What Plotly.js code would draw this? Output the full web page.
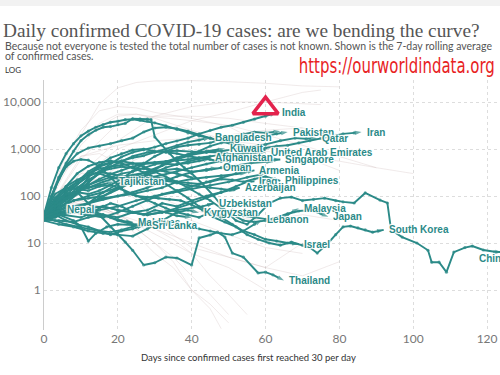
<!DOCTYPE html>
<html>
<head>
<meta charset="utf-8">
<script src="https://cdn.plot.ly/plotly-3.0.1.min.js"></script>
<style>html,body{margin:0;padding:0;background:#fff;}#chart{width:500px;height:375px;}</style>
</head>
<body>
<div id="chart"></div>
<script>
// ---------- DATA ----------
const titleText = "Daily confirmed COVID-19 cases: are we bending the curve?";
const subtitleLine1 = "Because not everyone is tested the total number of cases is not known. Shown is the 7-day rolling average";
const subtitleLine2 = "of confirmed cases.";
const xAxisTitle = "Days since confirmed cases first reached 30 per day";
const sourceUrl = "https://ourworldindata.org";
const xTickVals = [0, 20, 40, 60, 80, 100, 120];
const yTickVals = [1, 10, 100, 1000, 10000];
const yTickText = ["1", "10", "100", "1,000", "10,000"];

// highlighted marker (red triangle near India)
const highlightDay = [60];
const highlightCases = [7400];

// ---- highlighted (teal) countries ----
const indiaDays = [0,3,6,9,12,15,18,21,24,27,30,33,36,39,42,45,48,51,54,57,60,63];
const indiaCases = [30,45,70,110,190,330,480,680,850,960,1100,1300,1480,1700,2100,2500,2900,3200,3700,4300,5000,5900];
const pakistanDays = [0,3,6,9,12,15,18,21,24,27,30,33,36,39,42,45,48,51,54,57,60,63,66];
const pakistanCases = [35,90,130,150,170,210,250,300,330,400,470,540,650,780,900,1150,1350,1450,1600,1750,1900,2100,2300];
const qatarDays = [0,4,8,12,16,20,24,28,32,36,40,44,48,52,56,60,64,68,71,74];
const qatarCases = [35,45,55,70,120,180,250,330,450,600,750,850,900,1000,1100,1250,1500,1700,1650,1700];
const iranDays = [0,3,6,9,12,15,18,21,24,27,30,33,36,39,42,45,48,51,54,57,60,63,66,69,72,75,78,81,84,86];
const iranCases = [40,150,450,800,1050,1150,1300,1500,1700,2300,2800,2900,2700,2400,2000,1700,1450,1250,1150,1050,1050,1150,1200,1350,1500,1700,1900,2100,2200,2300];
const bangladeshDays = [0,3,6,9,12,15,18,21,24,27,30,33,36,39,42,45];
const bangladeshCases = [35,60,100,180,300,420,500,560,650,720,850,1000,1200,1400,1550,1750];
const kuwaitDays = [0,4,8,12,16,20,24,28,32,36,40,44,47,49];
const kuwaitCases = [35,60,80,90,100,150,220,300,450,650,800,900,950,1020];
const uaeDays = [0,3,6,9,12,15,18,21,24,27,30,33,36,39,42,45,48,51,54,57,60];
const uaeCases = [40,80,140,200,300,380,420,460,490,500,520,540,560,600,650,700,750,780,800,820,850];
const afghanistanDays = [0,3,6,9,12,15,18,21,24,27,30,33,36,39,42,45];
const afghanistanCases = [30,35,45,55,70,90,120,150,200,260,320,400,470,550,620,660];
const singaporeDays = [0,3,6,9,12,15,18,21,24,27,30,33,36,39,42,45,48,51,54,57,60,64];
const singaporeCases = [40,50,70,120,250,450,650,800,950,1000,900,850,800,700,650,600,550,600,650,600,580,600];
const omanDays = [0,4,8,12,16,20,24,28,32,36,40,44,47];
const omanCases = [30,40,55,70,85,100,120,150,200,260,320,370,400];
const armeniaDays = [0,4,8,12,16,20,24,28,32,36,40,44,48,52,57];
const armeniaCases = [35,40,45,40,35,45,60,80,110,130,160,200,250,300,350];
const iraqDays = [0,4,8,12,16,20,24,28,32,36,40,44,48,52,55,57];
const iraqCases = [35,40,45,50,40,35,45,50,70,60,80,100,120,160,200,205];
const philippinesDays = [0,3,6,9,12,15,18,21,24,27,30,33,36,39,42,45,48,51,54,57,60,64];
const philippinesCases = [35,60,90,150,220,300,250,220,200,220,250,230,200,190,180,200,230,220,200,230,260,210];
const azerbaijanDays = [0,4,8,12,16,20,24,28,32,36,40,44,48,53];
const azerbaijanCases = [35,40,50,55,60,50,45,40,45,55,70,90,120,150];
const tajikistanDays = [0,3,6,9,12,15,19];
const tajikistanCases = [40,60,90,130,150,170,200];
const uzbekistanDays = [0,4,8,12,16,20,24,28,32,36,40,43,46];
const uzbekistanCases = [35,45,50,55,60,50,45,40,45,50,55,60,70];
const kyrgyzstanDays = [0,4,8,12,16,20,24,28,32,36,39,42];
const kyrgyzstanCases = [30,25,22,18,16,15,14,20,30,45,50,44];
const lebanonDays = [0,3,6,9,12,15,18,21,24,27,30,33,36,39,42,45,48,51,54,57,59];
const lebanonCases = [32,30,25,22,20,18,17,19,22,26,30,28,25,22,20,18,16,15,18,25,31];
const malaysiaDays = [0,3,6,9,12,15,18,21,24,27,30,33,36,39,42,45,48,51,54,57,60,63,66,69];
const malaysiaCases = [40,110,150,140,130,160,170,140,110,90,70,55,45,40,35,45,40,50,38,35,32,30,40,55];
const japanDays = [0,3,6,9,12,15,18,21,24,27,30,33,36,39,42,45,48,51,54,57,60,63,66,69,72,75,77];
const japanCases = [40,70,120,200,330,450,520,550,500,420,330,260,200,150,110,80,55,40,30,28,30,35,42,48,50,42,36];
const southKoreaDays = [0,2,4,6,8,10,12,14,16,18,20,22,25,28,31,34,37,40,43,46,49,52,55,58,61,64,67,70,72,74,77,79,81,83,85,87,89,92];
const southKoreaCases = [35,90,230,420,550,600,580,480,360,250,170,120,100,95,90,85,80,65,50,35,28,22,15,12,10,9,10.5,9,8,6.1,10,15,22,23,21,19,17,19];
const chinaDays = [0,2,4,6,8,10,12,14,16,18,20,22,24,26,28,29,30,32,34,36,38,40,43,46,49,52,55,58,61,64,67,70,73,76,79,81,84,87,91,93,94,97,101,104,105,107,109,111,114,116,119,122,124];
const chinaCases = [40,100,250,500,900,1500,2000,2500,2900,3000,3300,3500,4400,4400,4300,4200,1800,1200,800,550,400,300,180,100,50,30,25,40,70,90,95,80,85,90,80,75,71,116,82,71,19,13.4,10,7,3.9,3.9,2.4,6.4,8,8.6,7.1,6.5,6.4];
const israelDays = [0,3,6,9,12,15,18,21,24,27,30,33,36,39,42,45,48,51,54,57,60,63,66,69];
const israelCases = [35,70,160,300,430,520,560,500,400,320,250,180,130,90,60,45,35,25,18,15,12,11,10,9.5];
const thailandDays = [0,3,6,9,12,15,18,20,22,24,27,30,33,36,40,42,45,47,49,51,54,58,60,62,65];
const thailandCases = [38,70,110,120,70,40,22,15,10.5,7,3.4,3.8,5,4.8,3.4,12.8,14.8,17,13.4,6.1,5,2.3,2.4,2.1,1.6];
const nepalDays = [0,1,2,3,4,5];
const nepalCases = [35,38,42,45,48,52];
const maldivesDays = [0,3,6,9,12,15,18,21,24];
const maldivesCases = [35,45,55,50,45,40,35,30,27];
const sriLankaDays = [0,4,8,12,16,20,24,28];
const sriLankaCases = [32,30,28,35,40,30,25,24];
// unlabelled teal lines (their labels are hidden by overlap in the reference)
const saudiDays = [0,3,6,9,12,15,18,21,24,27,30,33,36,39,42,45,48,51,54,57,60,64];
const saudiCases = [40,80,110,120,110,130,170,230,340,480,700,900,1100,1200,1250,1350,1600,1800,2100,2300,2200,2400];
const turkeyDays = [0,2,4,6,8,10,12,14,16,18,20,22,24,26,28,30,33,36,39,42,45,48,51,54,57,60];
const turkeyCases = [40,150,400,800,1300,1900,2400,2900,3300,3700,3900,4200,4300,4100,3900,3600,3100,2600,2200,1900,1700,1500,1300,1150,1000,950];
const indonesiaDays = [0,4,8,12,16,20,24,28,32,36,40,44,48,52,56,62];
const indonesiaCases = [40,80,120,150,200,250,280,320,350,380,330,350,400,450,500,550];
const kazakhstanDays = [0,4,8,12,16,20,24,28,32,36,40,44,48,52,55];
const kazakhstanCases = [30,40,60,70,90,100,110,130,150,200,230,250,270,300,310];
const bahrainDays = [0,5,10,15,20,25,30,35,40,45,50,55,60];
const bahrainCases = [30,40,35,50,60,80,100,120,140,170,200,250,300];
const belarusDays = [0,4,8,12,16,20,24,28,32,36,40,44,48,50];
const belarusCases = [40,70,110,200,350,500,700,850,900,920,880,860,850,830];
const georgiaDays = [0,3,6,9,12,15,18,21,24,27,30,33,36,40];
const georgiaCases = [32,45,60,50,40,55,70,60,45,40,50,45,38,35];
const hongKongDays = [0,4,8,10,12,14,17,20,24,28,33];
const hongKongCases = [35,40,30,22,11,16,22,25,24,26,25];
const jordanDays = [0,3,6,9,12,15,18,21,24,27];
const jordanCases = [32,40,30,25,22,18,15,18,20,24];
const kuwaitPeerDays = [0,3,6,9,12,15,18,21,24,27,30,33,36,39,42,45,48,52];
const kuwaitPeerCases = [40,90,160,220,280,320,300,260,240,230,220,210,190,170,160,150,140,130];
const omanPeerDays = [0,3,6,9,12,15,18,21,24,27,30,33,36,39,42,45];
const omanPeerCases = [35,55,80,120,170,230,290,350,420,480,500,480,470,500,560,620];
const egyptDays = [0,4,8,12,16,20,24,28,32,36,40,44,48,52,55];
const egyptCases = [35,55,80,100,120,150,190,240,280,330,400,480,560,650,700];
const armeniaPeerDays = [0,3,6,9,12,15,18,21,24,27,30,33,36,39,42];
const armeniaPeerCases = [38,70,120,180,260,330,380,420,400,380,360,330,300,260,230];

// ---- background (grey) countries ----
const usDays = [0,5,10,15,20,25,30,40,50,60,70,80];
const usCases = [40,300,2000,9000,20000,26000,28000,28500,27000,25000,22000,21000];
const brazilDays = [0,10,20,30,40,50,60,70,75];
const brazilCases = [40,250,1000,2000,4000,6000,10000,16000,18000];
const russiaDays = [0,10,20,30,40,50,60,70,75];
const russiaCases = [40,300,1500,5000,8000,10000,10000,9000,8800];
const ukDays = [0,10,20,30,40,50,60,70,80];
const ukCases = [40,600,3500,5000,5000,4500,3500,2800,2000];
const italyDays = [0,5,10,15,20,25,30,40,50,60,70,80,90,100];
const italyCases = [40,250,1200,3000,5000,5500,4800,4000,3200,2000,1200,700,400,300];
const spainDays = [0,5,10,15,20,25,30,40,50,60,70,80];
const spainCases = [40,500,2500,6500,8000,7500,6000,4500,3000,1200,700,350];
const germanyDays = [0,5,10,15,20,25,30,40,50,60,70,80,90];
const germanyCases = [40,400,1500,3500,5500,5500,4500,2500,1500,900,700,550,400];
const canadaDays = [0,10,20,30,40,50,60,70];
const canadaCases = [40,700,1200,1500,1700,1500,1200,900];
const mexicoDays = [0,10,20,30,40,50,60,70];
const mexicoCases = [35,150,400,900,1500,2000,2500,2800];
const australiaDays = [0,5,10,15,20,25,30,35,40,50,60,70];
const australiaCases = [40,150,300,320,200,80,30,15,8,5,3,10];
const newZealandDays = [0,5,10,15,20,25,30,35,40,45,50];
const newZealandCases = [30,60,70,55,35,15,6,3,1,0.5,0.2];
const icelandDays = [0,5,10,15,20,25,30,35,40,45,48];
const icelandCases = [35,60,80,60,40,20,10,4,1,0.4,0.15];
const croatiaDays = [0,5,10,15,20,25,30,35,40,45,50,55];
const croatiaCases = [35,60,70,50,40,25,20,12,6,2,0.8,0.3];
const greeceDays = [0,5,10,15,20,25,30,40,50,60,70,80];
const greeceCases = [35,60,80,60,40,30,20,10,5,3,2,4];
const norwayDays = [0,5,10,15,20,25,30,40,50,60,70];
const norwayCases = [40,150,250,220,150,100,60,30,15,8,6];
const austriaDays = [0,5,10,15,20,25,30,40,50,60,70,80];
const austriaCases = [40,300,700,800,500,250,100,50,35,30,40,30];
const sloveniaDays = [0,5,10,15,20,25,30,35,40,45,50];
const sloveniaCases = [30,40,45,35,30,20,10,5,2,0.8,0.3];
const estoniaDays = [0,5,10,15,20,25,30,40,50,60];
const estoniaCases = [30,50,70,60,40,25,15,6,3,1];

// ---------- SERIES LISTS ----------
// [label, days, cases, index of the point the label sits at (null = last), label x/y shift]
const labelled = [
  ["India", indiaDays, indiaCases], ["Pakistan", pakistanDays, pakistanCases],
  ["Qatar", qatarDays, qatarCases], ["Iran", iranDays, iranCases],
  ["Bangladesh", bangladeshDays, bangladeshCases], ["Kuwait", kuwaitDays, kuwaitCases],
  ["United Arab Emirates", uaeDays, uaeCases], ["Afghanistan", afghanistanDays, afghanistanCases],
  ["Singapore", singaporeDays, singaporeCases], ["Oman", omanDays, omanCases],
  ["Armenia", armeniaDays, armeniaCases], ["Iraq", iraqDays, iraqCases],
  ["Philippines", philippinesDays, philippinesCases], ["Azerbaijan", azerbaijanDays, azerbaijanCases],
  ["Tajikistan", tajikistanDays, tajikistanCases], ["Uzbekistan", uzbekistanDays, uzbekistanCases],
  ["Kyrgyzstan", kyrgyzstanDays, kyrgyzstanCases], ["Lebanon", lebanonDays, lebanonCases],
  ["Malaysia", malaysiaDays, malaysiaCases], ["Japan", japanDays, japanCases],
  ["South Korea", southKoreaDays, southKoreaCases], ["China", chinaDays, chinaCases, 49, 5, -12],
  ["Israel", israelDays, israelCases], ["Thailand", thailandDays, thailandCases],
  ["Nepal", nepalDays, nepalCases], ["Maldives", maldivesDays, maldivesCases],
  ["Sri Lanka", sriLankaDays, sriLankaCases]
];
const unlabelled = [
  [saudiDays, saudiCases], [turkeyDays, turkeyCases], [indonesiaDays, indonesiaCases],
  [kazakhstanDays, kazakhstanCases], [bahrainDays, bahrainCases], [belarusDays, belarusCases],
  [georgiaDays, georgiaCases], [hongKongDays, hongKongCases], [jordanDays, jordanCases],
  [kuwaitPeerDays, kuwaitPeerCases], [omanPeerDays, omanPeerCases], [egyptDays, egyptCases],
  [armeniaPeerDays, armeniaPeerCases]
];
const background = [
  [usDays, usCases], [brazilDays, brazilCases], [russiaDays, russiaCases], [ukDays, ukCases],
  [italyDays, italyCases], [spainDays, spainCases], [germanyDays, germanyCases],
  [canadaDays, canadaCases], [mexicoDays, mexicoCases], [australiaDays, australiaCases],
  [newZealandDays, newZealandCases], [icelandDays, icelandCases], [croatiaDays, croatiaCases],
  [greeceDays, greeceCases], [norwayDays, norwayCases], [austriaDays, austriaCases],
  [sloveniaDays, sloveniaCases], [estoniaDays, estoniaCases]
];

// ---------- STYLE ----------
const TEAL = "#2b8a88";
const GREY = "rgba(200,180,180,0.28)";
const M = {l: 44, r: 0, t: 80, b: 45};
const W = 500, H = 375;
const PW = W - M.l - M.r, PH = H - M.t - M.b;
const px2x = px => (px - M.l) / PW;
const py2y = py => (H - M.b - py) / PH;
const HALO = "1px 1px 1px #fff, -1px -1px 1px #fff, 1px -1px 1px #fff, -1px 1px 1px #fff, 0 0 2px #fff";

const traces = [];
background.forEach(([d, c]) => traces.push({
  x: d, y: c, type: "scatter", mode: "lines",
  line: {color: GREY, width: 1}, hoverinfo: "skip", showlegend: false
}));
function tealTrace(d, c) {
  const n = d.length;
  return {
    x: d, y: c, type: "scatter", mode: "lines+markers",
    line: {color: TEAL, width: 1.9},
    marker: {color: TEAL, size: d.map((_, i) => i === n - 1 ? 7 : 3.2),
             symbol: d.map((_, i) => i === n - 1 ? "arrow" : "circle"),
             angleref: "previous", line: {width: 0}},
    hoverinfo: "skip", showlegend: false
  };
}
unlabelled.forEach(([d, c]) => traces.push(tealTrace(d, c)));
labelled.forEach(([n, d, c]) => traces.push(tealTrace(d, c)));
traces.push({
  x: highlightDay, y: highlightCases, type: "scatter", mode: "markers",
  marker: {symbol: "triangle-up-open", size: 22, color: "#e3234d", line: {width: 3.5, color: "#e3234d"}},
  hoverinfo: "skip", showlegend: false
});

const annotations = labelled.map(([n, d, c, idx, xs, ys]) => {
  const i = (idx === undefined) ? d.length - 1 : idx;
  return {
    x: d[i], y: Math.log10(c[i]), xref: "x", yref: "y",
    text: n, showarrow: false, xanchor: "left", yanchor: "middle",
    xshift: (xs === undefined) ? 3 : xs, yshift: (ys === undefined) ? 0 : ys,
    font: {family: "Liberation Sans, Arial, sans-serif", size: 10, weight: 700, color: TEAL, shadow: HALO}
  };
});
const hdrFont = {family: "Lato, sans-serif", size: 10.5, color: "#555"};
annotations.push(
  {xref: "paper", yref: "paper", x: px2x(3), y: py2y(46), xanchor: "left", yanchor: "middle", showarrow: false, text: subtitleLine1, font: hdrFont},
  {xref: "paper", yref: "paper", x: px2x(3), y: py2y(56), xanchor: "left", yanchor: "middle", showarrow: false, text: subtitleLine2, font: hdrFont},
  {xref: "paper", yref: "paper", x: px2x(3), y: py2y(70), xanchor: "left", yanchor: "middle", showarrow: false, text: "LOG", font: {family: "Lato, sans-serif", size: 8, color: "#333"}},
  {xref: "paper", yref: "paper", x: px2x(397), y: py2y(66), xanchor: "center", yanchor: "middle", showarrow: false, text: sourceUrl,
   font: {family: "DejaVu Sans Condensed, Liberation Sans Narrow, sans-serif", size: 22, color: "#e8231f"}},
  {xref: "paper", yref: "paper", x: px2x(248), y: py2y(357), xanchor: "center", yanchor: "middle", showarrow: false, text: xAxisTitle,
   font: {family: "Lato, sans-serif", size: 9.5, color: "#333"}}
);

const layout = {
  width: W, height: H, margin: M, paper_bgcolor: "#fff", plot_bgcolor: "#fff",
  showlegend: false, hovermode: false,
  title: {text: titleText, xref: "container", yref: "container", x: 3 / W, xanchor: "left", y: 1 - 30 / H, yanchor: "middle",
          font: {family: "Liberation Serif, serif", size: 19.3, color: "#555"}},
  xaxis: {range: [0, 123.5], tickvals: xTickVals, showgrid: true, gridcolor: "#ddd", griddash: "3px,3px",
          zeroline: false, showline: false, ticks: "", tickfont: {family: "Lato, sans-serif", size: 12, color: "#777"}},
  yaxis: {type: "log", range: [-0.851, 4.468], tickvals: yTickVals, ticktext: yTickText,
          showgrid: true, gridcolor: "#ddd", griddash: "3px,3px", zeroline: false,
          showline: true, linecolor: "#ccc", linewidth: 1, ticks: "",
          tickfont: {family: "Lato, sans-serif", size: 12, color: "#777"}},
  shapes: [{type: "rect", xref: "paper", yref: "paper", x0: px2x(0), x1: px2x(W), y0: py2y(0), y1: py2y(6),
            fillcolor: "#f2f2f2", line: {width: 0}, layer: "below"}],
  annotations: annotations
};
Plotly.newPlot("chart", traces, layout, {staticPlot: true, displayModeBar: false}).then(gd => {
  // squeeze the source URL into the narrow width it has in the reference
  gd.querySelectorAll(".annotation-text").forEach(t => {
    if (t.textContent === sourceUrl) {
      t.setAttribute("textLength", "196");
      t.setAttribute("lengthAdjust", "spacingAndGlyphs");
    }
  });
});
</script>
</body>
</html>
